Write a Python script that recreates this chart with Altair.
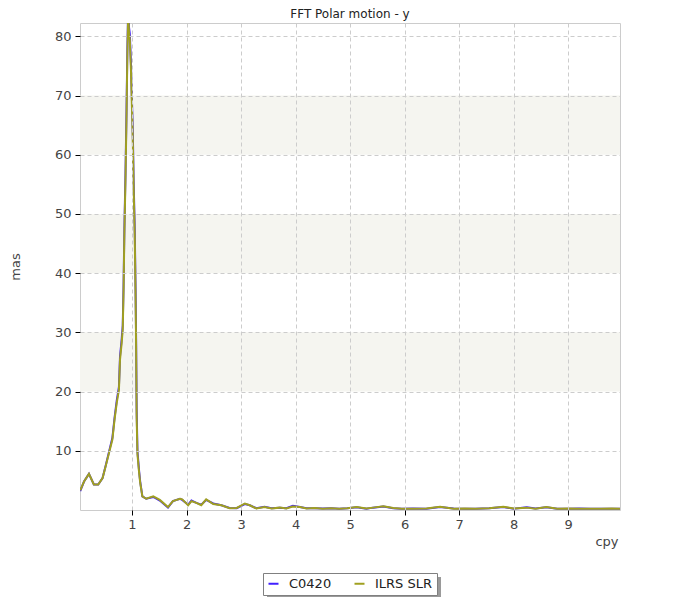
import altair as alt
import pandas as pd

# ---- data ----
freq = [0.05, 0.12, 0.21, 0.30, 0.38, 0.46, 0.52, 0.58, 0.64, 0.68,
        0.72, 0.76, 0.78, 0.81, 0.83, 0.845, 0.86, 0.88, 0.90, 0.915,
        0.93, 0.945, 0.96, 0.98, 0.995, 1.01, 1.02, 1.03, 1.05, 1.065,
        1.075, 1.085, 1.10, 1.13, 1.15, 1.19, 1.26, 1.39, 1.51, 1.66,
        1.75, 1.88, 1.92, 2.03, 2.09, 2.18, 2.27, 2.36, 2.49, 2.64,
        2.79, 2.92, 3.07, 3.16, 3.28, 3.43, 3.56, 3.71, 3.83, 3.95,
        4.08, 4.2, 4.35, 4.5, 4.65, 4.8, 4.95, 5.12, 5.3, 5.42,
        5.61, 5.79, 5.95, 6.15, 6.4, 6.65, 6.9, 7.1, 7.3, 7.55,
        7.81, 8.0, 8.24, 8.4, 8.6, 8.8, 9.0, 9.2, 9.4, 9.6,
        9.8, 9.95]

ilrs_slr = [3.3, 4.8, 6.1, 4.3, 4.3, 5.4, 7.5, 9.7, 11.9, 15.3,
            18.1, 20.3, 25.4, 28.2, 30.5, 37.2, 46.8, 55.8, 67.1, 77.2,
            84.0, 80.5, 79.4, 74.4, 69.3, 64.2, 59.7, 54.5, 46.2, 36.1,
            27.7, 15.6, 9.4, 6.3, 4.6, 2.3, 1.9, 2.3, 1.7, 0.5,
            1.5, 1.9, 1.8, 0.8, 1.5, 1.2, 0.8, 1.8, 1.0, 0.8,
            0.3, 0.35, 1.1, 0.8, 0.25, 0.5, 0.25, 0.4, 0.25, 0.6,
            0.5, 0.25, 0.35, 0.2, 0.3, 0.2, 0.3, 0.5, 0.25, 0.4,
            0.65, 0.35, 0.2, 0.2, 0.25, 0.55, 0.2, 0.25, 0.2, 0.3,
            0.55, 0.25, 0.4, 0.2, 0.5, 0.2, 0.25, 0.2, 0.2, 0.2,
            0.25, 0.2]

c0420 = [3.2, 4.8, 6.1, 4.3, 4.3, 5.4, 7.6, 9.9, 12.2, 15.6,
         18.5, 20.8, 26.0, 28.8, 31.2, 38.0, 47.6, 56.8, 68.0, 78.0,
         85.0, 81.5, 80.4, 75.5, 70.5, 65.5, 61.0, 55.6, 47.6, 37.5,
         29.0, 17.0, 9.9, 6.6, 4.8, 2.3, 1.9, 2.2, 1.6, 0.4,
         1.5, 1.9, 1.7, 0.9, 1.6, 1.2, 0.9, 1.7, 1.1, 0.8,
         0.35, 0.3, 1.0, 0.8, 0.3, 0.55, 0.3, 0.4, 0.3, 0.7,
         0.5, 0.3, 0.3, 0.25, 0.3, 0.2, 0.3, 0.45, 0.2, 0.4,
         0.6, 0.3, 0.2, 0.25, 0.2, 0.5, 0.25, 0.2, 0.2, 0.3,
         0.5, 0.2, 0.45, 0.25, 0.45, 0.2, 0.2, 0.25, 0.2, 0.2,
         0.2, 0.2]

series_names = ["C0420", "ILRS SLR"]
series_colors = ["#4020ff", "#a0a020"]
band_lo = [20, 40, 60]
band_hi = [30, 50, 70]
x_ticks = [1, 2, 3, 4, 5, 6, 7, 8, 9]
y_ticks = [10, 20, 30, 40, 50, 60, 70, 80]

n = len(freq)
df = pd.DataFrame({
    "freq": freq + freq,
    "amp": c0420 + ilrs_slr,
    "series": [series_names[0]] * n + [series_names[1]] * n,
})
bands = pd.DataFrame({"lo": band_lo, "hi": band_hi})
one = pd.DataFrame({"k": [0]})

W, H = 540, 487
FONT = "DejaVu Sans"
xs = alt.Scale(domain=[0.046, 9.95], nice=False, zero=False)
ys = alt.Scale(domain=[0, 82.25], nice=False, zero=False)

x_axis = alt.Axis(values=x_ticks, title="cpy", titleX=538, titleY=31,
                  titleAlign="right", titleBaseline="middle",
                  labelPadding=3, zindex=1)
y_axis = alt.Axis(values=y_ticks, title="mas", titleX=-65, titleY=H / 2,
                  titleAngle=-90, titleAlign="center", titleBaseline="middle",
                  labelPadding=4, zindex=1)

band_layer = alt.Chart(bands).mark_rect(color="#f5f5f0").encode(
    x=alt.value(0), x2=alt.value(W),
    y=alt.Y("lo:Q", scale=ys, axis=y_axis), y2="hi:Q",
)

shadow = alt.Chart(one).mark_rect(color="#9a9a9a", clip=False).encode(
    x=alt.value(187), x2=alt.value(361), y=alt.value(554), y2=alt.value(574)
)

lines = alt.Chart(df).mark_line(strokeWidth=2, clip=True).encode(
    x=alt.X("freq:Q", scale=xs, axis=x_axis),
    y=alt.Y("amp:Q", scale=ys, axis=y_axis),
    color=alt.Color("series:N",
                    scale=alt.Scale(domain=series_names, range=series_colors),
                    legend=alt.Legend(title=None, orient="none", legendX=183, legendY=550,
                                      direction="horizontal", strokeColor="#808080",
                                      fillColor="#ffffff", padding=4,
                                      symbolType="stroke", symbolSize=100,
                                      symbolStrokeWidth=2, labelFontSize=13,
                                      labelFont=FONT, labelColor="#222222",
                                      columnPadding=18, labelOffset=9)),
    order=alt.Order("freq:Q"),
)

chart = alt.layer(band_layer, shadow, lines).properties(
    width=W, height=H,
    title=alt.TitleParams("FFT Polar motion - y", fontSize=12, font=FONT,
                          fontWeight="normal", color="#222222", offset=2,
                          anchor="middle"),
    autosize=alt.AutoSizeParams(type="none"),
    padding={"left": 72, "top": 15, "right": 60, "bottom": 88},
).configure_view(
    stroke="#cccccc", strokeWidth=1
).configure_axis(
    gridColor="#cccccc", gridDash=[4, 3], gridWidth=1,
    domain=False, tickColor="#000000", tickSize=5,
    labelFont=FONT, labelFontSize=13, labelColor="#444444",
    titleFont=FONT, titleFontSize=13, titleColor="#444444", titleFontWeight="normal",
)

chart.save("out.html", embed_options={"renderer": "svg", "actions": False})
